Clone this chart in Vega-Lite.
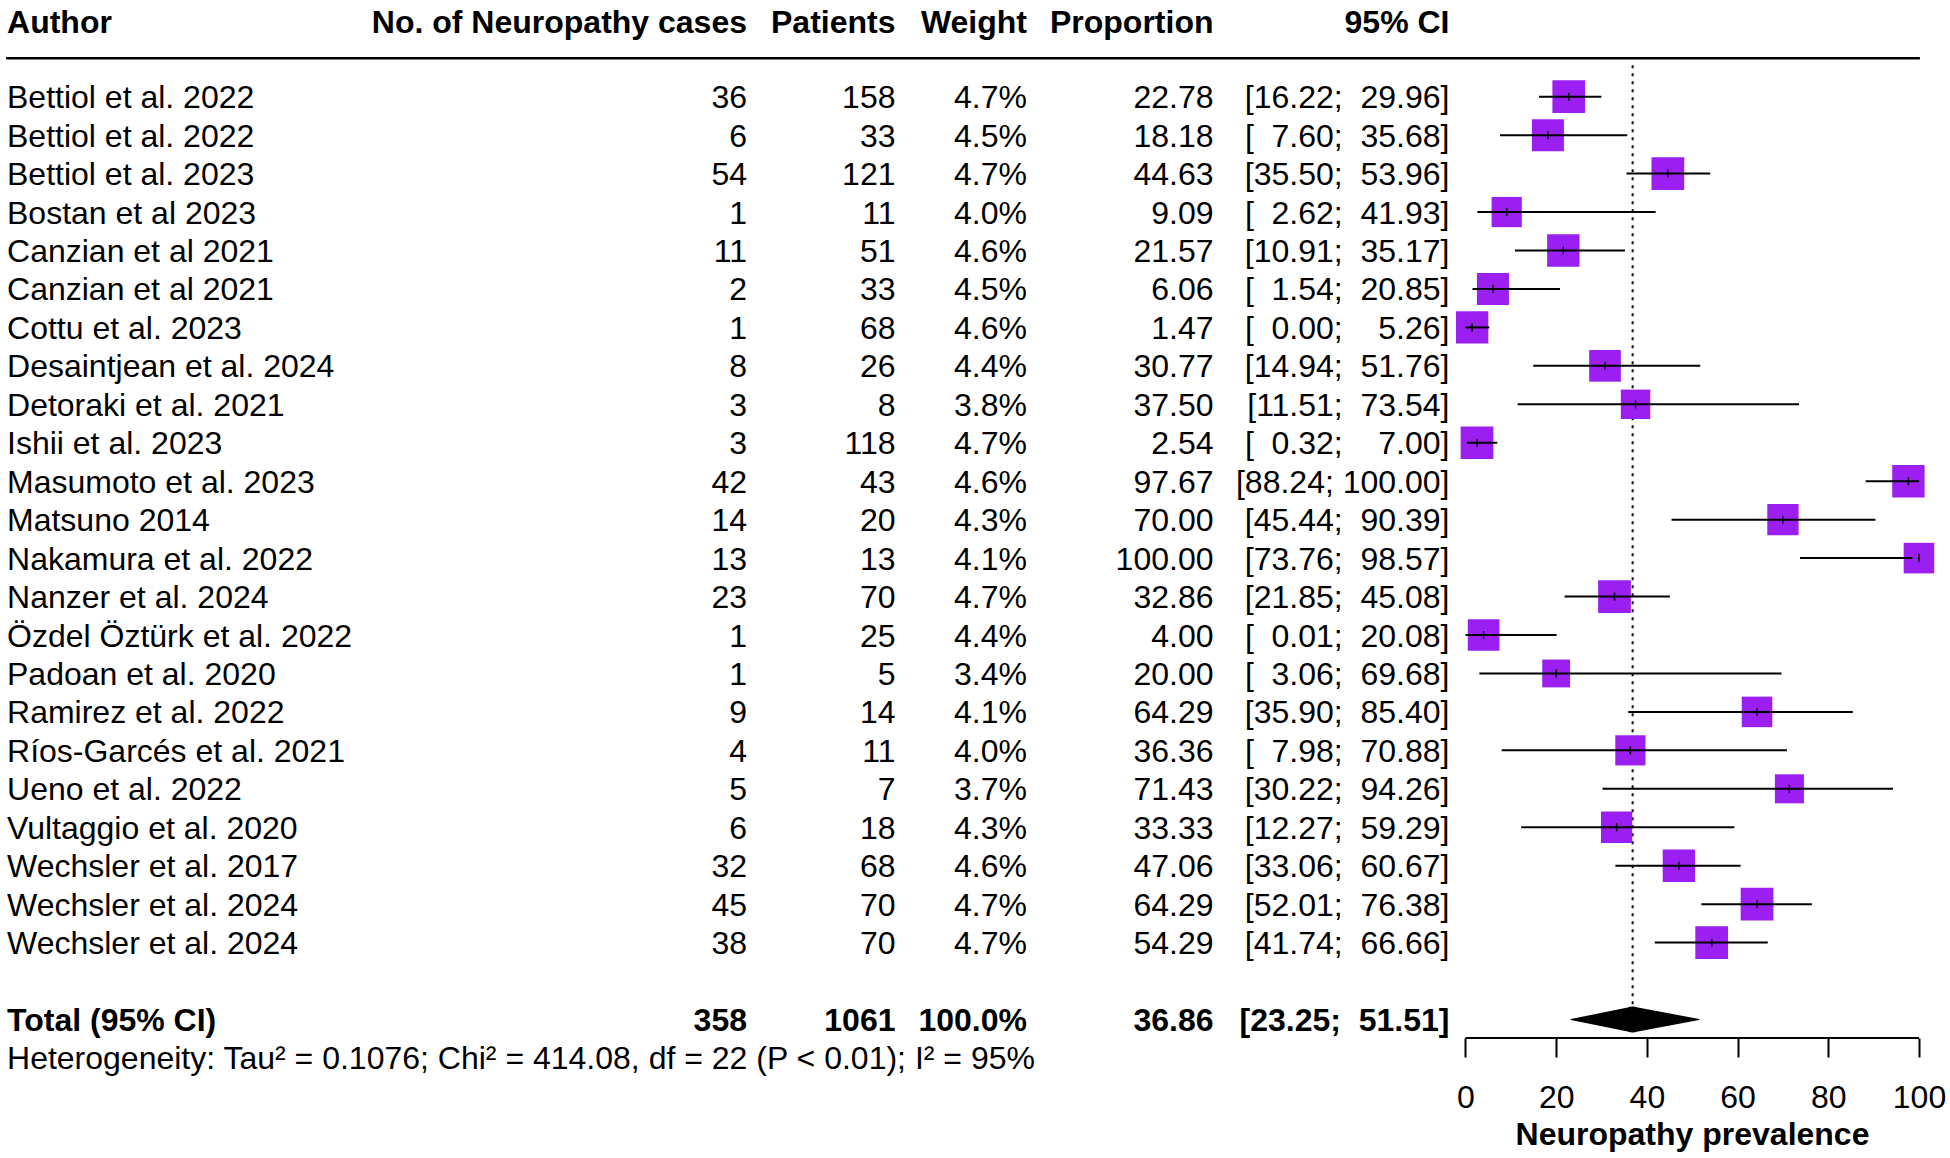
{
  "$schema": "https://vega.github.io/schema/vega-lite/v6.json",
  "width": 1950,
  "height": 1038,
  "autosize": {"type": "none"},
  "padding": {"left": 0, "top": 0, "right": 0, "bottom": 120},
  "background": "white",
  "config": {
    "view": {"stroke": null},
    "font": "Liberation Sans",
    "text": {"font": "Liberation Sans", "fontSize": 32, "color": "black", "baseline": "middle", "dy": 1.5}
  },
  "datasets": {
    "studies": [
      {"id": 1, "author": "Bettiol et al. 2022", "cases": 36, "n": 158, "weight": 0.047, "prop": 22.78, "lo": 16.22, "hi": 29.96, "ci": "[16.22;\u00a0\u00a029.96]"},
      {"id": 2, "author": "Bettiol et al. 2022", "cases": 6, "n": 33, "weight": 0.045, "prop": 18.18, "lo": 7.60, "hi": 35.68, "ci": "[\u00a0\u00a07.60;\u00a0\u00a035.68]"},
      {"id": 3, "author": "Bettiol et al. 2023", "cases": 54, "n": 121, "weight": 0.047, "prop": 44.63, "lo": 35.50, "hi": 53.96, "ci": "[35.50;\u00a0\u00a053.96]"},
      {"id": 4, "author": "Bostan et al 2023", "cases": 1, "n": 11, "weight": 0.040, "prop": 9.09, "lo": 2.62, "hi": 41.93, "ci": "[\u00a0\u00a02.62;\u00a0\u00a041.93]"},
      {"id": 5, "author": "Canzian et al 2021", "cases": 11, "n": 51, "weight": 0.046, "prop": 21.57, "lo": 10.91, "hi": 35.17, "ci": "[10.91;\u00a0\u00a035.17]"},
      {"id": 6, "author": "Canzian et al 2021", "cases": 2, "n": 33, "weight": 0.045, "prop": 6.06, "lo": 1.54, "hi": 20.85, "ci": "[\u00a0\u00a01.54;\u00a0\u00a020.85]"},
      {"id": 7, "author": "Cottu et al. 2023", "cases": 1, "n": 68, "weight": 0.046, "prop": 1.47, "lo": 0.00, "hi": 5.26, "ci": "[\u00a0\u00a00.00;\u00a0\u00a0\u00a0\u00a05.26]"},
      {"id": 8, "author": "Desaintjean et al. 2024", "cases": 8, "n": 26, "weight": 0.044, "prop": 30.77, "lo": 14.94, "hi": 51.76, "ci": "[14.94;\u00a0\u00a051.76]"},
      {"id": 9, "author": "Detoraki et al. 2021", "cases": 3, "n": 8, "weight": 0.038, "prop": 37.50, "lo": 11.51, "hi": 73.54, "ci": "[11.51;\u00a0\u00a073.54]"},
      {"id": 10, "author": "Ishii et al. 2023", "cases": 3, "n": 118, "weight": 0.047, "prop": 2.54, "lo": 0.32, "hi": 7.00, "ci": "[\u00a0\u00a00.32;\u00a0\u00a0\u00a0\u00a07.00]"},
      {"id": 11, "author": "Masumoto et al. 2023", "cases": 42, "n": 43, "weight": 0.046, "prop": 97.67, "lo": 88.24, "hi": 100.00, "ci": "[88.24;\u00a0100.00]"},
      {"id": 12, "author": "Matsuno 2014", "cases": 14, "n": 20, "weight": 0.043, "prop": 70.00, "lo": 45.44, "hi": 90.39, "ci": "[45.44;\u00a0\u00a090.39]"},
      {"id": 13, "author": "Nakamura et al. 2022", "cases": 13, "n": 13, "weight": 0.041, "prop": 100.00, "lo": 73.76, "hi": 98.57, "ci": "[73.76;\u00a0\u00a098.57]"},
      {"id": 14, "author": "Nanzer et al. 2024", "cases": 23, "n": 70, "weight": 0.047, "prop": 32.86, "lo": 21.85, "hi": 45.08, "ci": "[21.85;\u00a0\u00a045.08]"},
      {"id": 15, "author": "Özdel Öztürk et al. 2022", "cases": 1, "n": 25, "weight": 0.044, "prop": 4.00, "lo": 0.01, "hi": 20.08, "ci": "[\u00a0\u00a00.01;\u00a0\u00a020.08]"},
      {"id": 16, "author": "Padoan et al. 2020", "cases": 1, "n": 5, "weight": 0.034, "prop": 20.00, "lo": 3.06, "hi": 69.68, "ci": "[\u00a0\u00a03.06;\u00a0\u00a069.68]"},
      {"id": 17, "author": "Ramirez et al. 2022", "cases": 9, "n": 14, "weight": 0.041, "prop": 64.29, "lo": 35.90, "hi": 85.40, "ci": "[35.90;\u00a0\u00a085.40]"},
      {"id": 18, "author": "Ríos-Garcés et al. 2021", "cases": 4, "n": 11, "weight": 0.040, "prop": 36.36, "lo": 7.98, "hi": 70.88, "ci": "[\u00a0\u00a07.98;\u00a0\u00a070.88]"},
      {"id": 19, "author": "Ueno et al. 2022", "cases": 5, "n": 7, "weight": 0.037, "prop": 71.43, "lo": 30.22, "hi": 94.26, "ci": "[30.22;\u00a0\u00a094.26]"},
      {"id": 20, "author": "Vultaggio et al. 2020", "cases": 6, "n": 18, "weight": 0.043, "prop": 33.33, "lo": 12.27, "hi": 59.29, "ci": "[12.27;\u00a0\u00a059.29]"},
      {"id": 21, "author": "Wechsler et al. 2017", "cases": 32, "n": 68, "weight": 0.046, "prop": 47.06, "lo": 33.06, "hi": 60.67, "ci": "[33.06;\u00a0\u00a060.67]"},
      {"id": 22, "author": "Wechsler et al. 2024", "cases": 45, "n": 70, "weight": 0.047, "prop": 64.29, "lo": 52.01, "hi": 76.38, "ci": "[52.01;\u00a0\u00a076.38]"},
      {"id": 23, "author": "Wechsler et al. 2024", "cases": 38, "n": 70, "weight": 0.047, "prop": 54.29, "lo": 41.74, "hi": 66.66, "ci": "[41.74;\u00a0\u00a066.66]"}
    ],
    "total": [
      {"id": 25, "label": "Total (95% CI)", "cases": 358, "n": 1061, "weight": 1.0, "prop": 36.86, "lo": 23.25, "hi": 51.51, "ci": "[23.25;\u00a0\u00a051.51]", "het": "Heterogeneity: Tau² = 0.1076; Chi² = 414.08, df = 22 (P < 0.01); I² = 95%"}
    ],
    "diamond": [
      {"vertex": "lower", "x": 23.25},
      {"vertex": "estimate", "x": 36.86},
      {"vertex": "upper", "x": 51.51}
    ],
    "header": [
      {"author": "Author", "cases": "No. of Neuropathy cases", "n": "Patients", "weight": "Weight", "prop": "Proportion", "ci": "95% CI"}
    ]
  },
  "resolve": {"scale": {"size": "independent"}, "legend": {"size": "independent"}},
  "layer": [
    {
      "data": {"name": "header"},
      "mark": {"type": "rule", "strokeWidth": 2.5, "color": "black"},
      "encoding": {
        "x": {"datum": -321.8, "type": "quantitative", "scale": {"domain": [-323.15, 106.84], "nice": false, "zero": false}, "axis": {"values": [0, 20, 40, 60, 80, 100], "domain": false, "grid": false, "ticks": true, "tickSize": 19, "tickWidth": 2, "tickColor": "black", "labelFont": "Liberation Sans", "labelFontSize": 32, "labelColor": "black", "labelPadding": 25, "labelFlush": false, "labelOverlap": false, "title": "Neuropathy prevalence", "titleFont": "Liberation Sans", "titleFontSize": 32, "titleFontWeight": "bold", "titleColor": "black", "titleX": 1692, "titleY": 106, "titleBaseline": "alphabetic", "titleAlign": "center"}},
        "x2": {"datum": 100.2},
        "y": {"datum": 0, "type": "quantitative", "scale": {"domain": [-1.515, 25.481], "reverse": true, "nice": false, "zero": false}, "axis": null}
      }
    },
    {
      "data": {"name": "total"},
      "mark": {"type": "rule", "strokeWidth": 2, "color": "black", "strokeDash": [3, 5]},
      "encoding": {
        "x": {"field": "prop", "type": "quantitative"},
        "y": {"datum": 0.18, "type": "quantitative"},
        "y2": {"datum": 24.65}
      }
    },
    {
      "data": {"name": "studies"},
      "mark": {"type": "point", "shape": "square", "filled": true, "opacity": 1, "color": "#9b1ff0"},
      "encoding": {
        "x": {"field": "prop", "type": "quantitative"},
        "y": {"field": "id", "type": "quantitative"},
        "size": {"field": "weight", "type": "quantitative", "scale": {"domain": [0, 0.047], "range": [0, 1072]}, "legend": null}
      }
    },
    {
      "data": {"name": "studies"},
      "mark": {"type": "rule", "strokeWidth": 2, "color": "black"},
      "encoding": {
        "x": {"field": "lo", "type": "quantitative"},
        "x2": {"field": "hi"},
        "y": {"field": "id", "type": "quantitative"}
      }
    },
    {
      "data": {"name": "studies"},
      "mark": {"type": "point", "shape": "M0,-1L0,1", "filled": false, "size": 64, "strokeWidth": 1.5, "color": "black", "opacity": 1},
      "encoding": {
        "x": {"field": "prop", "type": "quantitative"},
        "y": {"field": "id", "type": "quantitative"}
      }
    },
    {
      "data": {"name": "diamond"},
      "mark": {"type": "trail", "color": "black"},
      "encoding": {
        "x": {"field": "x", "type": "quantitative"},
        "y": {"datum": 25, "type": "quantitative"},
        "order": {"field": "x", "type": "quantitative"},
        "size": {"field": "vertex", "type": "nominal", "scale": {"type": "ordinal", "domain": ["lower", "estimate", "upper"], "range": [0, 26, 0]}, "legend": null}
      }
    },
    {
      "data": {"name": "header"},
      "mark": {"type": "rule", "strokeWidth": 2, "color": "black"},
      "encoding": {
        "x": {"datum": 0, "type": "quantitative"},
        "x2": {"datum": 100},
        "y": {"value": "height"}
      }
    },
    {
      "data": {"name": "studies"},
      "mark": {"type": "text", "align": "left"},
      "encoding": {"x": {"datum": -321.6, "type": "quantitative"}, "y": {"field": "id", "type": "quantitative"}, "text": {"field": "author"}}
    },
    {
      "data": {"name": "studies"},
      "mark": {"type": "text", "align": "right"},
      "encoding": {"x": {"datum": -158.43, "type": "quantitative"}, "y": {"field": "id", "type": "quantitative"}, "text": {"field": "cases"}}
    },
    {
      "data": {"name": "studies"},
      "mark": {"type": "text", "align": "right"},
      "encoding": {"x": {"datum": -125.69, "type": "quantitative"}, "y": {"field": "id", "type": "quantitative"}, "text": {"field": "n"}}
    },
    {
      "data": {"name": "studies"},
      "mark": {"type": "text", "align": "right"},
      "encoding": {"x": {"datum": -96.69, "type": "quantitative"}, "y": {"field": "id", "type": "quantitative"}, "text": {"field": "weight", "format": ".1%"}}
    },
    {
      "data": {"name": "studies"},
      "mark": {"type": "text", "align": "right"},
      "encoding": {"x": {"datum": -55.57, "type": "quantitative"}, "y": {"field": "id", "type": "quantitative"}, "text": {"field": "prop", "format": ".2f"}}
    },
    {
      "data": {"name": "studies"},
      "mark": {"type": "text", "align": "right"},
      "encoding": {"x": {"datum": -3.53, "type": "quantitative"}, "y": {"field": "id", "type": "quantitative"}, "text": {"field": "ci"}}
    },
    {
      "data": {"name": "header"},
      "mark": {"type": "text", "align": "left", "fontWeight": "bold"},
      "encoding": {"x": {"datum": -321.6, "type": "quantitative"}, "y": {"datum": -0.965, "type": "quantitative"}, "text": {"field": "author"}}
    },
    {
      "data": {"name": "header"},
      "mark": {"type": "text", "align": "right", "fontWeight": "bold"},
      "encoding": {"x": {"datum": -158.43, "type": "quantitative"}, "y": {"datum": -0.965, "type": "quantitative"}, "text": {"field": "cases"}}
    },
    {
      "data": {"name": "header"},
      "mark": {"type": "text", "align": "right", "fontWeight": "bold"},
      "encoding": {"x": {"datum": -125.69, "type": "quantitative"}, "y": {"datum": -0.965, "type": "quantitative"}, "text": {"field": "n"}}
    },
    {
      "data": {"name": "header"},
      "mark": {"type": "text", "align": "right", "fontWeight": "bold"},
      "encoding": {"x": {"datum": -96.69, "type": "quantitative"}, "y": {"datum": -0.965, "type": "quantitative"}, "text": {"field": "weight"}}
    },
    {
      "data": {"name": "header"},
      "mark": {"type": "text", "align": "right", "fontWeight": "bold"},
      "encoding": {"x": {"datum": -55.57, "type": "quantitative"}, "y": {"datum": -0.965, "type": "quantitative"}, "text": {"field": "prop"}}
    },
    {
      "data": {"name": "header"},
      "mark": {"type": "text", "align": "right", "fontWeight": "bold"},
      "encoding": {"x": {"datum": -3.53, "type": "quantitative"}, "y": {"datum": -0.965, "type": "quantitative"}, "text": {"field": "ci"}}
    },
    {
      "data": {"name": "total"},
      "mark": {"type": "text", "align": "left", "fontWeight": "bold"},
      "encoding": {"x": {"datum": -321.6, "type": "quantitative"}, "y": {"field": "id", "type": "quantitative"}, "text": {"field": "label"}}
    },
    {
      "data": {"name": "total"},
      "mark": {"type": "text", "align": "right", "fontWeight": "bold"},
      "encoding": {"x": {"datum": -158.43, "type": "quantitative"}, "y": {"field": "id", "type": "quantitative"}, "text": {"field": "cases"}}
    },
    {
      "data": {"name": "total"},
      "mark": {"type": "text", "align": "right", "fontWeight": "bold"},
      "encoding": {"x": {"datum": -125.69, "type": "quantitative"}, "y": {"field": "id", "type": "quantitative"}, "text": {"field": "n"}}
    },
    {
      "data": {"name": "total"},
      "mark": {"type": "text", "align": "right", "fontWeight": "bold"},
      "encoding": {"x": {"datum": -96.69, "type": "quantitative"}, "y": {"field": "id", "type": "quantitative"}, "text": {"field": "weight", "format": ".1%"}}
    },
    {
      "data": {"name": "total"},
      "mark": {"type": "text", "align": "right", "fontWeight": "bold"},
      "encoding": {"x": {"datum": -55.57, "type": "quantitative"}, "y": {"field": "id", "type": "quantitative"}, "text": {"field": "prop", "format": ".2f"}}
    },
    {
      "data": {"name": "total"},
      "mark": {"type": "text", "align": "right", "fontWeight": "bold"},
      "encoding": {"x": {"datum": -3.53, "type": "quantitative"}, "y": {"field": "id", "type": "quantitative"}, "text": {"field": "ci"}}
    },
    {
      "data": {"name": "total"},
      "mark": {"type": "text", "align": "left"},
      "encoding": {"x": {"datum": -321.6, "type": "quantitative"}, "y": {"datum": 26, "type": "quantitative"}, "text": {"field": "het"}}
    }
  ]
}
